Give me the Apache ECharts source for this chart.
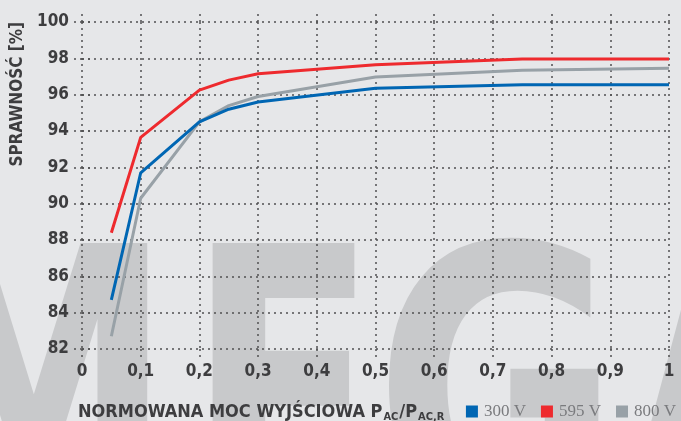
<!DOCTYPE html>
<html>
<head>
<meta charset="utf-8">
<script src="https://cdn.jsdelivr.net/npm/echarts@6/dist/echarts.min.js"></script>
<style>
  html, body { margin: 0; padding: 0; background: #e6e7e9; }
  #chart { width: 681px; height: 421px; }
</style>
</head>
<body>
<div id="chart"></div>
<script>
// moc wyjsciowa (znormalizowana)
var loads = [0.05, 0.1, 0.2, 0.25, 0.3, 0.5, 0.75, 1];
var eff300 = [84.7, 91.7, 94.5, 95.2, 95.6, 96.35, 96.55, 96.55];
var eff595 = [88.4, 93.65, 96.25, 96.8, 97.15, 97.65, 97.97, 97.97];
var eff800 = [82.7, 90.3, 94.5, 95.4, 95.9, 96.97, 97.35, 97.45];
var seriesNames = ['300 V', '595 V', '800 V'];
var watermark = ['M', 'E', 'G', 'A'];

var font = 'DejaVu Sans Condensed';
var dotted = { color: '#505052', width: 1.5, type: [2, 4] };

function pairs(vals) {
  return loads.map(function (x, i) { return [x, vals[i]]; });
}

var chart = echarts.init(document.getElementById('chart'));

// znak wodny w tle
var wmX = [-105, 187, 374, 622];
var wmScale = [0.8, 0.8, 0.86, 0.8];
var graphics = watermark.map(function (ch, i) {
  return {
    type: 'text',
    z: -10,
    left: wmX[i],
    top: 231,
    scaleX: wmScale[i],
    style: {
      text: ch,
      fill: '#c8c9cb',
      font: 'bold 388px "DejaVu Sans Condensed"'
    }
  };
});
graphics.push({
  type: 'text',
  left: 9,
  top: 22,
  rotation: Math.PI / 2,
  style: {
    text: 'SPRAWNOŚĆ [%]',
    fill: '#3d3d3f',
    font: 'bold 17px "' + font + '"'
  }
});
graphics.push({
  type: 'text',
  left: 78,
  top: 403,
  style: {
    text: '{a|NORMOWANA MOC WYJŚCIOWA P}{s|AC}{a|/P}{s|AC,R}',
    rich: {
      a: { fontFamily: font, fontWeight: 'bold', fontSize: 18, fill: '#3d3d3f', verticalAlign: 'bottom' },
      s: { fontFamily: font, fontWeight: 'bold', fontSize: 11, fill: '#3d3d3f', verticalAlign: 'bottom', padding: [0, 1, -2, 1] }
    }
  }
});

chart.setOption({
  backgroundColor: '#e6e7e9',
  animation: false,
  color: ['#0066b3', '#ee2a2e', '#98a1a7'],
  graphic: graphics,
  grid: { left: 82, right: 12, top: 22, bottom: 72 },
  legend: {
    data: seriesNames,
    right: 0,
    bottom: -4,
    icon: 'rect',
    itemWidth: 12,
    itemHeight: 12,
    itemGap: 15,
    textStyle: { fontFamily: 'Liberation Serif', fontSize: 17, color: '#7a7b7e', padding: [0, 0, 0, 1] }
  },
  xAxis: [{
    type: 'value',
    min: 0,
    max: 1,
    interval: 0.1,
    axisLine: { show: false },
    axisTick: { show: true, length: 8, lineStyle: dotted },
    splitLine: { show: true, lineStyle: dotted },
    axisLabel: {
      margin: 14,
      fontFamily: font,
      fontWeight: 'bold',
      fontSize: 17,
      color: '#3d3d3f',
      formatter: function (v) { return String(+v.toFixed(1)).replace('.', ','); }
    }
  }, {
    type: 'value',
    position: 'top',
    min: 0,
    max: 1,
    interval: 0.1,
    axisLine: { show: false },
    axisTick: { show: true, length: 8, lineStyle: dotted },
    splitLine: { show: false },
    axisLabel: { show: false }
  }],
  yAxis: [{
    type: 'value',
    min: 82,
    max: 100,
    interval: 2,
    axisLine: { show: false },
    axisTick: { show: true, length: 9, lineStyle: dotted },
    splitLine: { show: true, lineStyle: dotted },
    axisLabel: {
      margin: 13,
      fontFamily: font,
      fontWeight: 'bold',
      fontSize: 17,
      color: '#3d3d3f'
    }
  }, {
    type: 'value',
    position: 'right',
    min: 82,
    max: 100,
    interval: 2,
    axisLine: { show: false },
    axisTick: { show: true, length: 12, lineStyle: dotted },
    splitLine: { show: false },
    axisLabel: { show: false }
  }],
  series: [
    { name: seriesNames[0], type: 'line', data: pairs(eff300), showSymbol: false, symbol: 'none', lineStyle: { width: 3 }, z: 3 },
    { name: seriesNames[1], type: 'line', data: pairs(eff595), showSymbol: false, symbol: 'none', lineStyle: { width: 3 }, z: 3 },
    { name: seriesNames[2], type: 'line', data: pairs(eff800), showSymbol: false, symbol: 'none', lineStyle: { width: 3 }, z: 2 }
  ]
});
</script>
</body>
</html>
